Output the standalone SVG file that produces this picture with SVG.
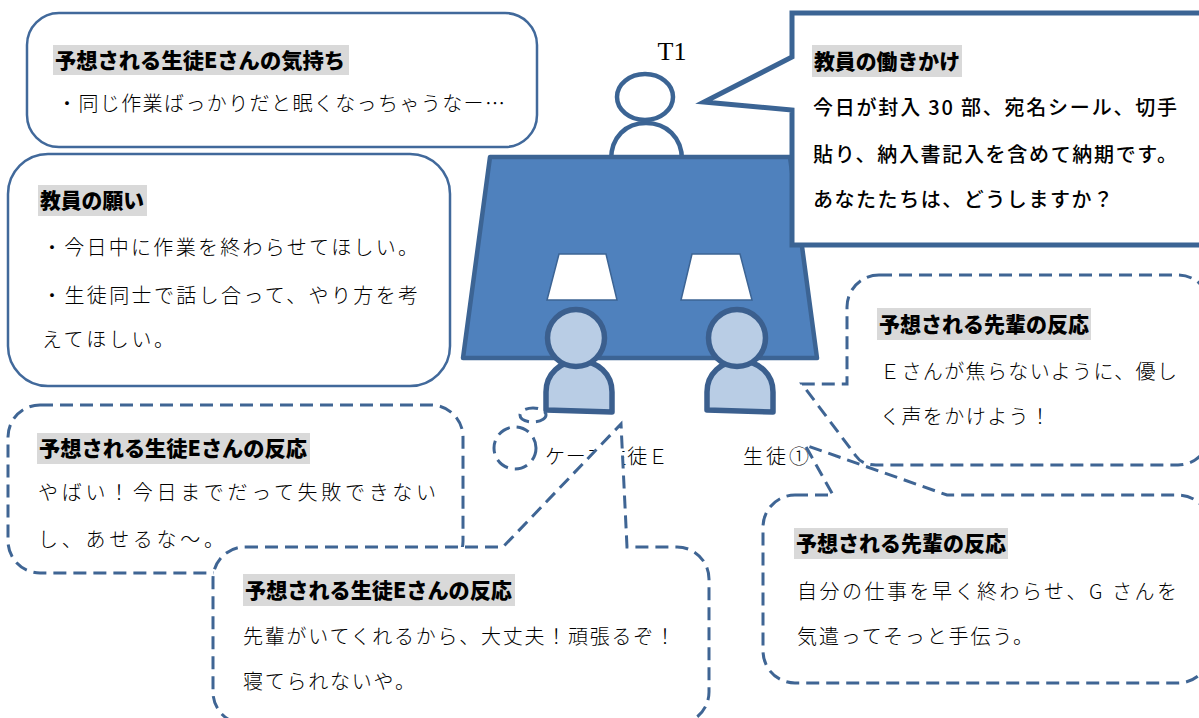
<svg xmlns="http://www.w3.org/2000/svg" width="1199" height="718" viewBox="0 0 1199 718">
  <defs>
    <style>
      .solid { fill: #ffffff; stroke: #41699b; stroke-width: 2.5; }
      .dash { fill: #ffffff; stroke: #3f6594; stroke-width: 3; stroke-dasharray: 13 7; }
      .hl { fill: #d9d9d9; }
      .title { font-family: 'Noto Sans CJK JP', sans-serif; font-weight: 900; font-size: 21px; fill: #000000; }
      .body { font-family: 'Noto Sans CJK JP', sans-serif; font-weight: 300; font-size: 20px; fill: #000000; }
      .tbody { font-family: 'Noto Sans CJK JP', sans-serif; font-weight: 500; font-size: 20px; fill: #000000; }
      .lbl { font-family: 'Noto Sans CJK JP', sans-serif; font-weight: 300; font-size: 20px; fill: #000000; }
      .person { stroke: #3b5f8e; stroke-width: 5.5; fill: #b9cde5; }
      .teacher { stroke: #3b6494; stroke-width: 4.5; fill: #ffffff; }
    </style>
  </defs>

  <!-- upper-left note: student's feelings -->
  <g id="feeling-note">
    <rect class="solid" x="27" y="13" width="510" height="134" rx="32"/>
    <rect class="hl" x="53" y="45" width="296" height="30"/>
    <text class="title" x="55" y="68" textLength="290" lengthAdjust="spacingAndGlyphs">予想される生徒Eさんの気持ち</text>
    <text class="body" x="57" y="111" textLength="448" lengthAdjust="spacing">・同じ作業ばっかりだと眠くなっちゃうなー…</text>
  </g>

  <!-- teacher's wishes -->
  <g id="teacher-wish">
    <rect class="solid" x="8" y="154" width="442" height="232" rx="40"/>
    <rect class="hl" x="38" y="185" width="109" height="31"/>
    <text class="title" x="40" y="208" textLength="104" lengthAdjust="spacingAndGlyphs">教員の願い</text>
    <text class="body" x="42" y="255" font-size="21" textLength="376" lengthAdjust="spacing">・今日中に作業を終わらせてほしい。</text>
    <text class="body" x="42" y="303" font-size="21" textLength="376" lengthAdjust="spacing">・生徒同士で話し合って、やり方を考</text>
    <text class="body" x="42" y="347" font-size="21" textLength="132" lengthAdjust="spacing">えてほしい。</text>
  </g>

  <!-- work table with the teacher and two students -->
  <g id="table">
    <path class="teacher" d="M611,160 C611,137 626,123 646,123 C666,123 682,137 682,160 Z"/>
    <ellipse class="teacher" cx="645" cy="97" rx="28" ry="23"/>
    <polygon points="490,157 790,157 817,358 463,358" fill="#4f81bd" stroke="#3c6494" stroke-width="4.5" stroke-linejoin="round"/>
    <polygon points="559,254 606,254 617,300 547,300" fill="#ffffff" stroke="#3c6494" stroke-width="1.5"/>
    <polygon points="692,254 740,254 752,300 681,300" fill="#ffffff" stroke="#3c6494" stroke-width="1.5"/>
    <text x="672" y="60" text-anchor="middle" font-family="'Liberation Serif', serif" font-size="26" fill="#000000">T1</text>
  </g>

  <g id="student-e">
    <path class="person" d="M546,410 L546,392 C546,374 560,361 579,361 C598,361 612,374 612,392 L612,412 Z" stroke-linejoin="round"/>
    <circle class="person" cx="576" cy="338" r="28.5"/>
  </g>

  <g id="student-1">
    <path class="person" d="M707,410 L707,392 C707,374 721,361 740,361 C759,361 773,374 773,392 L773,412 Z" stroke-linejoin="round"/>
    <circle class="person" cx="737" cy="338" r="28.5"/>
  </g>

  <g id="labels">
    <text class="lbl" x="545" y="464" textLength="123" lengthAdjust="spacing">ケース生徒Ｅ</text>
    <text class="lbl" x="743" y="464" textLength="66" lengthAdjust="spacing">生徒①</text>
  </g>

  <!-- thought bubbles leading from student E -->
  <g id="connectors">
    <ellipse class="dash" cx="515" cy="448" rx="21" ry="21" style="fill:none"/>
    <ellipse class="dash" cx="533" cy="415" rx="13" ry="7" style="fill:none"/>
  </g>

  <g id="student-e-reaction-1">
    <rect class="dash" x="8" y="405" width="455" height="168" rx="32"/>
    <rect class="hl" x="37" y="433" width="273" height="31"/>
    <text class="title" x="39" y="456" textLength="268" lengthAdjust="spacingAndGlyphs">予想される生徒Eさんの反応</text>
    <text class="body" x="38" y="500" textLength="398" lengthAdjust="spacing">やばい！今日までだって失敗できない</text>
    <text class="body" x="38" y="547" textLength="186" lengthAdjust="spacing">し、あせるな～。</text>
  </g>

  <g id="student-e-reaction-2">
    <path class="dash" d="M245,547 H503 L621,424 L627,547 H677 A32,32 0 0 1 709,579 V692 A32,32 0 0 1 677,724 H245 A32,32 0 0 1 213,692 V579 A32,32 0 0 1 245,547 Z"/>
    <rect class="hl" x="243" y="574" width="272" height="32"/>
    <text class="title" x="245" y="598" textLength="267" lengthAdjust="spacingAndGlyphs">予想される生徒Eさんの反応</text>
    <text class="body" x="243" y="644" textLength="432" lengthAdjust="spacing">先輩がいてくれるから、大丈夫！頑張るぞ！</text>
    <text class="body" x="243" y="689" textLength="172" lengthAdjust="spacing">寝てられないや。</text>
  </g>

  <g id="senpai-reaction-1">
    <path class="dash" d="M879,275 H1178 A32,32 0 0 1 1210,307 V433 A32,32 0 0 1 1178,465 H876 Q862,465 856,456 L802,384 L847,384 V307 A32,32 0 0 1 879,275 Z"/>
    <rect class="hl" x="877" y="308" width="214" height="32"/>
    <text class="title" x="879" y="332" textLength="210" lengthAdjust="spacingAndGlyphs">予想される先輩の反応</text>
    <text class="body" x="880" y="379" textLength="297" lengthAdjust="spacing">Ｅさんが焦らないように、優し</text>
    <text class="body" x="880" y="424" textLength="170" lengthAdjust="spacing">く声をかけよう！</text>
  </g>

  <g id="senpai-reaction-2">
    <path class="dash" d="M795,495 H833 L805,445 L947,495 H1178 A32,32 0 0 1 1210,527 V651 A32,32 0 0 1 1178,683 H795 A32,32 0 0 1 763,651 V527 A32,32 0 0 1 795,495 Z"/>
    <rect class="hl" x="794" y="528" width="214" height="31"/>
    <text class="title" x="796" y="551" textLength="210" lengthAdjust="spacingAndGlyphs">予想される先輩の反応</text>
    <text class="body" x="797" y="599" textLength="380" lengthAdjust="spacing">自分の仕事を早く終わらせ、G さんを</text>
    <text class="body" x="797" y="644" textLength="236" lengthAdjust="spacing">気遣ってそっと手伝う。</text>
  </g>

  <!-- teacher's prompt -->
  <g id="teacher-prompt">
    <path d="M792,13 H1212 V245 H792 V110 L704,102 L792,57 Z" fill="#ffffff" stroke="#3b6494" stroke-width="5" stroke-linejoin="miter"/>
    <rect class="hl" x="812" y="45" width="150" height="32"/>
    <text class="title" x="814" y="69" textLength="146" lengthAdjust="spacingAndGlyphs">教員の働きかけ</text>
    <text class="tbody" x="813" y="115" textLength="364" lengthAdjust="spacing">今日が封入 30 部、宛名シール、切手</text>
    <text class="tbody" x="813" y="162" textLength="364" lengthAdjust="spacing">貼り、納入書記入を含めて納期です。</text>
    <text class="tbody" x="813" y="207" textLength="300" lengthAdjust="spacing">あなたたちは、どうしますか？</text>
  </g>
</svg>
